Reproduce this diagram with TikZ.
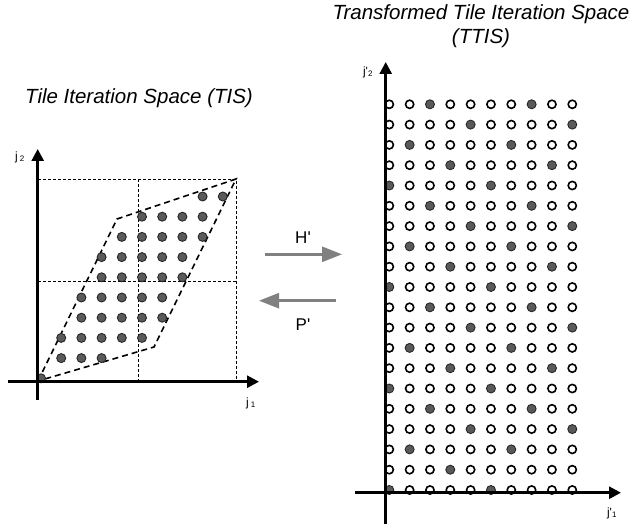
\documentclass[tikz,border=0pt]{standalone}
\usepackage{fontspec}
\newfontfamily\arial{Liberation Sans}
\usetikzlibrary{arrows.meta}
\definecolor{dotgray}{HTML}{5A5A5A}
\definecolor{arrgray}{HTML}{808080}
\begin{document}
\begin{tikzpicture}[x=1pt,y=-1pt,
  axis/.style={line width=2.7pt,-{Triangle[length=12pt,width=12pt]}},
  gridline/.style={line width=0.8pt,dash pattern=on 3pt off 2pt},
  para/.style={line width=1.6pt,dash pattern=on 6pt off 4pt},
  fdot/.style={circle,inner sep=0pt,minimum size=9pt,fill=dotgray,draw=black!85,line width=0.9pt},
  odot/.style={circle,inner sep=0pt,minimum size=8.2pt,fill=white,draw=black,line width=1.6pt},
  maparrow/.style={line width=2.7pt,draw=arrgray,-{Triangle[length=20pt,width=15pt]}},
  title/.style={font=\arial\itshape\fontsize{20.5}{24}\selectfont,align=center},
  axlabel/.style={font=\arial\fontsize{12}{13}\selectfont,inner sep=0pt},
  maplabel/.style={font=\arial\fontsize{17}{19}\selectfont,inner sep=0pt}]
\useasboundingbox (0,0) rectangle (636,529);

% titles
\node[title] (tis) at (139,98) {Tile Iteration Space (TIS)};
\node[title] (ttis) at (481,26) {Transformed Tile Iteration Space\\(TTIS)};

% left: dashed grid
\coordinate (g00) at (38,179.3);
\coordinate (g10) at (138.3,179.3);
\coordinate (g20) at (236.7,179.3);
\coordinate (g01) at (38,281.7);
\coordinate (g21) at (236.7,281.7);
\coordinate (g12) at (138.3,382);
\coordinate (g22) at (236.7,382);
\draw[gridline] (g00) -- (g20) -- (g22);
\draw[gridline] (g10) -- (g12);
\draw[gridline] (g01) -- (g21);

% parallelogram
\coordinate (pO) at (38,381);
\coordinate (pA) at (117,219);
\coordinate (pB) at (236,179);
\coordinate (pC) at (154,347);
\draw[para] (pO) -- (pA) -- (pB) -- (pC) -- cycle;

% left dots
\foreach \k/\ia/\ib in {0/0/0,1/1/3,2/1/5,3/2/6,4/2/6,5/3/7,6/3/7,7/4/8,8/5/8,9/8/9}{
  \foreach \i in {\ia,...,\ib}{
    \node[fdot] (L-\i-\k) at ({41+20.2*\i},{378.3-20.2*\k}) {};
  }
}

% left axes
\coordinate (LxS) at (8,381.7);
\coordinate (LxE) at (259,381.7);
\coordinate (LyS) at (37.7,400);
\coordinate (LyE) at (37.7,149);
\draw[axis] (LxS) -- (LxE);
\draw[axis] (LyS) -- (LyE);
\node[axlabel] (lj2) at (20,157) {j\,\textsubscript{2}};
\node[axlabel] (lj1) at (251,403) {j\,\textsubscript{1}};

% map arrows
\coordinate (hS) at (265,254.3);
\coordinate (hE) at (342,254.3);
\coordinate (pS) at (336,300.7);
\coordinate (pE) at (259,300.7);
\draw[maparrow] (hS) -- (hE);
\draw[maparrow] (pS) -- (pE);
\node[maplabel] (hl) at (303,238) {H'};
\node[maplabel] (pl) at (303,325) {P'};

% right dots
\foreach \r in {0,...,19}{
  \foreach \c in {0,...,9}{
    \pgfmathtruncatemacro\m{mod(\c+2*\r,5)}
    \pgfmathtruncatemacro\ex{(\c==8)&&(\r==1)}
    \ifnum\m=0
      \ifnum\ex=1
        \node[odot] (R-\c-\r) at ({389.3+20.33*\c},{490-20.3*\r}) {};
      \else
        \node[fdot] (R-\c-\r) at ({389.3+20.33*\c},{490-20.3*\r}) {};
      \fi
    \else
      \node[odot] (R-\c-\r) at ({389.3+20.33*\c},{490-20.3*\r}) {};
    \fi
  }
}

% right axes
\coordinate (RxS) at (355,492.7);
\coordinate (RxE) at (621,492.7);
\coordinate (RyS) at (385.7,524);
\coordinate (RyE) at (385.7,62);
\draw[axis] (RxS) -- (RxE);
\draw[axis] (RyS) -- (RyE);
\node[axlabel] (rj2) at (368,72) {j'\textsubscript{2}};
\node[axlabel] (rj1) at (612,513) {j'\textsubscript{1}};
\end{tikzpicture}
\end{document}
